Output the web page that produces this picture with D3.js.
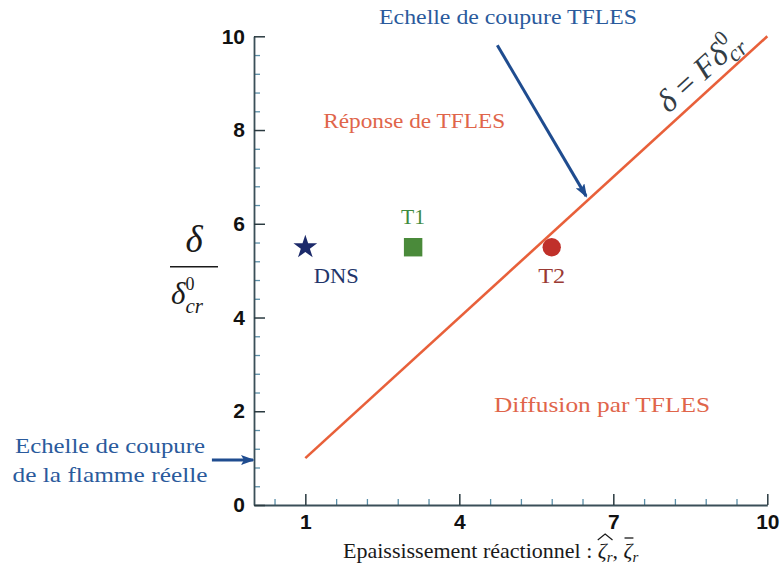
<!DOCTYPE html>
<html><head><meta charset="utf-8">
<script src="https://cdn.jsdelivr.net/npm/d3@7"></script>
<style>body{margin:0;background:#fff}svg{display:block}</style>
</head><body><svg id="c" width="783" height="571"></svg>
<script>
// ---- data ----
const xDomain = [0, 10];
const yDomain = [0, 10];
const xMajorTicks = [1, 4, 7, 10];
const xMinorTicks = [0.4, 1.6, 2.2, 2.8, 3.4, 4.6, 5.2, 5.8, 6.4, 7.6, 8.2, 8.8, 9.4];
const yMajorTicks = [0, 2, 4, 6, 8, 10];
const yMinorTicks = [0.4, 0.8, 1.2, 1.6, 2.4, 2.8, 3.2, 3.6, 4.4, 4.8, 5.2, 5.6, 6.4, 6.8, 7.2, 7.6, 8.4, 8.8, 9.2, 9.6];
const cutLineX = [1, 10];
const cutLineY = [1, 10];
const caseNames = ["DNS", "T1", "T2"];
const caseX = [1, 3.1, 5.8];
const caseY = [5.5, 5.5, 5.5];
const regionLabels = ["Réponse de TFLES", "Diffusion par TFLES"];
const regionX = [3.12, 6.78];
const regionY = [8.04, 1.98];
const topNote = "Echelle de coupure TFLES";
const topNoteAt = [4.95, 10.26];
const topArrowFrom = [4.74, 9.81];
const topArrowTo = [6.47, 6.59];
const leftNote = ["Echelle de coupure", "de la flamme réelle"];
const leftArrowFrom = [-0.82, 0.96];
const leftArrowTo = [-0.02, 0.96];
const xTitle = "Epaississement réactionnel : ";

// ---- drawing ----
const svg = d3.select("#c");
const x = d3.scaleLinear().domain(xDomain).range([254, 767.3]);
const y = d3.scaleLinear().domain(yDomain).range([505, 36.3]);
const serif = "'Liberation Serif','DejaVu Serif','Noto Serif',serif";
const sans = "'Liberation Sans',Arial,sans-serif";
const BLUE = "#2a5a9c", ARROW = "#1f4c8f", ORANGE = "#e0654a", LINE = "#e8603a";

function fit(sel, w) { return sel.attr("textLength", w).attr("lengthAdjust", "spacingAndGlyphs"); }

// markers
const defs = svg.append("defs");
defs.append("marker").attr("id", "ah").attr("viewBox", "0 0 14 10")
  .attr("refX", 12).attr("refY", 5).attr("markerWidth", 14).attr("markerHeight", 10)
  .attr("markerUnits", "userSpaceOnUse").attr("orient", "auto")
  .append("path").attr("d", "M0,0 L14,5 L0,10 L3,5 Z").attr("fill", ARROW);

// minor ticks
svg.append("g").attr("transform", `translate(0,${y(0)})`)
  .call(d3.axisBottom(x).tickValues(xMinorTicks).tickSizeInner(-6).tickSizeOuter(0).tickFormat(""))
  .call(g => g.select(".domain").remove())
  .call(g => g.selectAll("line").attr("stroke", "#5b8fa8").attr("stroke-width", 1.3));
svg.append("g").attr("transform", `translate(${x(0)},0)`)
  .call(d3.axisLeft(y).tickValues(yMinorTicks).tickSizeInner(-6).tickSizeOuter(0).tickFormat(""))
  .call(g => g.select(".domain").remove())
  .call(g => g.selectAll("line").attr("stroke", "#5b8fa8").attr("stroke-width", 1.3));

// major axes
svg.append("g").attr("transform", `translate(0,${y(0)})`)
  .call(d3.axisBottom(x).tickValues(xMajorTicks).tickSizeInner(-11).tickSizeOuter(0).tickPadding(9).tickFormat(d3.format("d")))
  .call(g => g.select(".domain").attr("stroke", "#3a4f58").attr("stroke-width", 1.8))
  .call(g => g.selectAll("line").attr("stroke", "#2a3a40").attr("stroke-width", 1.5))
  .call(g => g.selectAll("text").attr("font-family", sans).attr("font-weight", "bold").attr("font-size", 21).attr("fill", "#111"));
svg.append("g").attr("transform", `translate(${x(0)},0)`)
  .call(d3.axisLeft(y).tickValues(yMajorTicks).tickSizeInner(-11).tickSizeOuter(0).tickPadding(9).tickFormat(d3.format("d")))
  .call(g => g.select(".domain").attr("stroke", "#3a4f58").attr("stroke-width", 1.8))
  .call(g => g.selectAll("line").attr("stroke", "#2a3a40").attr("stroke-width", 1.5))
  .call(g => g.selectAll("text").attr("font-family", sans).attr("font-weight", "bold").attr("font-size", 21).attr("fill", "#111"));

// cut-off line
svg.append("path").datum(cutLineX.map((v, i) => [v, cutLineY[i]]))
  .attr("d", d3.line().x(d => x(d[0])).y(d => y(d[1])))
  .attr("stroke", LINE).attr("stroke-width", 2.6).attr("fill", "none");

// line label (single text element)
const ang = Math.atan2(y(cutLineY[1]) - y(cutLineY[0]), x(cutLineX[1]) - x(cutLineX[0])) * 180 / Math.PI;
const lt = 8.2;
const lg = svg.append("g").attr("transform", `translate(${x(lt)},${y(lt)}) rotate(${ang})`);
const lmain = lg.append("text").attr("x", 0).attr("y", -9).attr("font-family", serif).attr("font-size", 32).attr("fill", "#333d45");
lmain.append("tspan").attr("font-style", "italic").text("δ");
lmain.append("tspan").text(" = ");
lmain.append("tspan").attr("font-style", "italic").text("F");
lmain.append("tspan").attr("font-style", "italic").text("δ");
const sup0 = lmain.append("tspan").attr("font-size", 21).attr("dx", 1).attr("dy", -14).text("0");
const w0 = sup0.node().getComputedTextLength();
lmain.append("tspan").attr("font-style", "italic").attr("font-size", 23).attr("dx", -w0 - 1).attr("dy", 21).text("cr");

// case markers
const star = d3.symbol().type(d3.symbolStar).size(175)();
const sq = d3.symbol().type(d3.symbolSquare).size(340)();
const circ = d3.symbol().type(d3.symbolCircle).size(265)();
const markerPaths = [star, sq, circ];
const markerFill = ["#1c2a6a", "#4a8a3a", "#c0302a"];
const labelFill = ["#22356a", "#3f8a40", "#9a3a34"];
const labelDx = [31, 0, 0];
const labelDy = [36, -23, 36];
caseNames.forEach((n, i) => {
  svg.append("path").attr("d", markerPaths[i]).attr("transform", `translate(${x(caseX[i])},${y(caseY[i])})`).attr("fill", markerFill[i]);
  svg.append("text").attr("x", x(caseX[i]) + labelDx[i]).attr("y", y(caseY[i]) + labelDy[i])
    .attr("text-anchor", "middle").attr("font-family", serif).attr("font-size", 21).attr("fill", labelFill[i])
    .call(s => fit(s, i === 0 ? 45 : (i === 1 ? 24 : 27))).text(n);
});

// region labels
const regionW = [182, 216];
regionLabels.forEach((t, i) => {
  svg.append("text").attr("x", x(regionX[i])).attr("y", y(regionY[i])).attr("text-anchor", "middle")
    .attr("font-family", serif).attr("font-size", 21).attr("fill", ORANGE).call(s => fit(s, regionW[i])).text(t);
});

// top note + arrow
svg.append("text").attr("x", x(topNoteAt[0])).attr("y", y(topNoteAt[1])).attr("text-anchor", "middle")
  .attr("font-family", serif).attr("font-size", 21).attr("fill", BLUE).call(s => fit(s, 258)).text(topNote);
svg.append("line").attr("x1", x(topArrowFrom[0])).attr("y1", y(topArrowFrom[1]))
  .attr("x2", x(topArrowTo[0])).attr("y2", y(topArrowTo[1]))
  .attr("stroke", ARROW).attr("stroke-width", 3).attr("marker-end", "url(#ah)");

// left note + arrow
const leftW = [190, 195];
leftNote.forEach((t, i) => {
  svg.append("text").attr("x", 110).attr("y", i === 0 ? 453 : 482).attr("text-anchor", "middle")
    .attr("font-family", serif).attr("font-size", 21).attr("fill", BLUE).call(s => fit(s, leftW[i])).text(t);
});
svg.append("line").attr("x1", x(leftArrowFrom[0])).attr("y1", y(leftArrowFrom[1]))
  .attr("x2", x(leftArrowTo[0])).attr("y2", y(leftArrowTo[1]))
  .attr("stroke", ARROW).attr("stroke-width", 3).attr("marker-end", "url(#ah)");

// x title
const xt = svg.append("text").attr("x", 343).attr("y", 558).attr("font-family", serif).attr("font-size", 22).attr("fill", "#1a1a1a");
xt.append("tspan").text(xTitle);
xt.append("tspan").attr("font-style", "italic").text("ζ");
xt.append("tspan").attr("font-style", "italic").attr("font-size", 15).attr("dy", 4).text("r");
xt.append("tspan").attr("dy", -4).text(", ");
xt.append("tspan").attr("font-style", "italic").text("ζ");
xt.append("tspan").attr("font-style", "italic").attr("font-size", 15).attr("dy", 4).text("r");
{
  const n = xTitle.length;
  const node = xt.node();
  const a = node.getExtentOfChar(n), b = node.getExtentOfChar(n + 1), c = node.getExtentOfChar(n + 4);
  const top = 540;
  svg.append("path").attr("d", `M${a.x},${top} L${(a.x + b.x + b.width) / 2},${top - 6} L${b.x + b.width},${top}`)
    .attr("stroke", "#1a1a1a").attr("stroke-width", 1.2).attr("fill", "none");
  svg.append("line").attr("x1", c.x + 1).attr("x2", c.x + c.width + 1).attr("y1", top - 2).attr("y2", top - 2)
    .attr("stroke", "#1a1a1a").attr("stroke-width", 1.3);
}

// y title (fraction)
const cx = x(0) - 60, cy = y(5);
svg.append("text").attr("x", cx).attr("y", cy - 19).attr("text-anchor", "middle").attr("font-family", serif)
  .attr("font-style", "italic").attr("font-size", 37).attr("fill", "#1a1a1a").text("δ");
svg.append("line").attr("x1", cx - 24).attr("x2", cx + 24).attr("y1", cy - 4).attr("y2", cy - 4).attr("stroke", "#1a1a1a").attr("stroke-width", 1.5);
const den = svg.append("text").attr("x", cx - 23).attr("y", cy + 33).attr("font-family", serif).attr("fill", "#1a1a1a");
den.append("tspan").attr("font-style", "italic").attr("font-size", 31).text("δ");
const d0 = den.append("tspan").attr("font-size", 18).attr("dx", 0).attr("dy", -14).text("0");
const dw0 = d0.node().getComputedTextLength();
den.append("tspan").attr("font-style", "italic").attr("font-size", 21).attr("dx", -dw0).attr("dy", 23).text("cr");
</script></body></html>
